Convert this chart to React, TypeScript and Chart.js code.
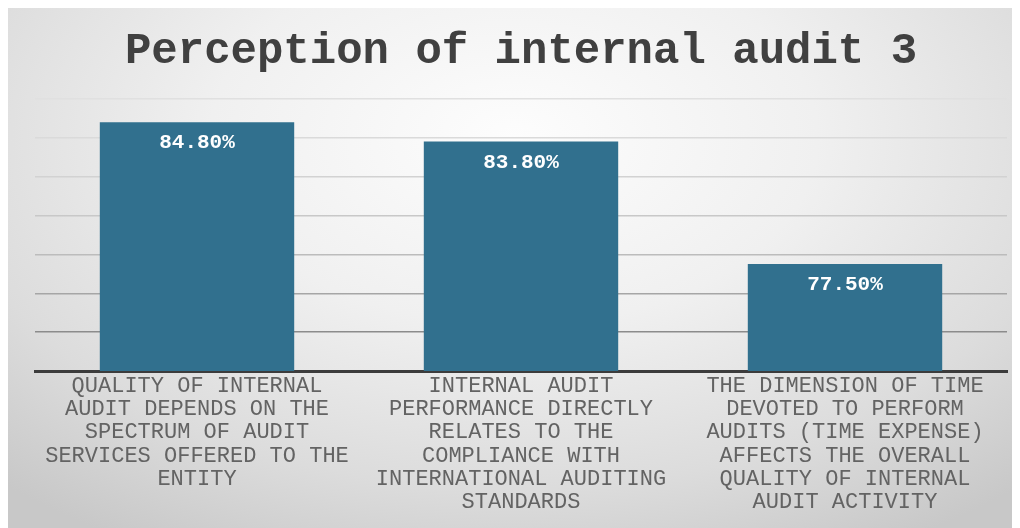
import React, { useEffect, useRef } from "react";
import { Chart, registerables } from "chart.js";

Chart.register(...registerables);

const TITLE = "Perception of internal audit 3";
const categories: string[][] = [
  ["QUALITY OF INTERNAL", "AUDIT DEPENDS ON THE", "SPECTRUM OF AUDIT", "SERVICES OFFERED TO THE", "ENTITY"],
  ["INTERNAL AUDIT", "PERFORMANCE DIRECTLY", "RELATES TO THE", "COMPLIANCE WITH", "INTERNATIONAL AUDITING", "STANDARDS"],
  ["THE DIMENSION OF TIME", "DEVOTED TO PERFORM", "AUDITS (TIME EXPENSE)", "AFFECTS THE OVERALL", "QUALITY OF INTERNAL", "AUDIT ACTIVITY"],
];
const values: number[] = [84.8, 83.8, 77.5];
const valueLabels: string[] = ["84.80%", "83.80%", "77.50%"];
const yMin = 72;
const yMax = 86;
const yStep = 2;

const MONO = "'Liberation Mono', 'Courier New', monospace";

const dataLabelPlugin = {
  id: "dataLabelPlugin",
  afterDatasetsDraw(chart: any) {
    const ctx = chart.ctx;
    const meta = chart.getDatasetMeta(0);
    ctx.save();
    ctx.fillStyle = "#ffffff";
    ctx.font = `bold 21px ${MONO}`;
    ctx.textAlign = "center";
    ctx.textBaseline = "middle";
    meta.data.forEach((bar: any, i: number) => {
      ctx.fillText(valueLabels[i], bar.x, bar.y + 21);
    });
    ctx.restore();
  },
};

export default function App() {
  const ref = useRef<HTMLCanvasElement | null>(null);

  useEffect(() => {
    if (!ref.current) return;
    const gridColors = ["#7a7a7a", "#8c8c8c", "#a6a6a6", "#bcbcbc", "#c8c8c8", "#d2d2d2", "#dadada", "#e0e0e0"];
    const chart = new Chart(ref.current, {
      type: "bar",
      data: {
        labels: categories,
        datasets: [
          {
            data: values,
            backgroundColor: "#31708e",
            borderWidth: 0,
            barPercentage: 0.6,
            categoryPercentage: 1,
          },
        ],
      },
      options: {
        responsive: false,
        animation: false,
        layout: { padding: { left: 27, right: 13, top: 0, bottom: 11 } },
        plugins: {
          legend: { display: false },
          tooltip: { enabled: false },
          title: {
            display: true,
            text: TITLE,
            color: "#404040",
            font: { family: MONO, size: 44, weight: "bold", lineHeight: 1.2 },
            padding: { top: 18, bottom: 20 },
          },
        },
        scales: {
          x: {
            grid: { display: false, drawTicks: false },
            border: { display: true, color: "#3c3c3c", width: 3 },
            ticks: {
              color: "#636363",
              font: { family: MONO, size: 22, lineHeight: 1.06 },
              padding: 3,
              maxRotation: 0,
              minRotation: 0,
              autoSkip: false,
            },
          },
          y: {
            min: yMin,
            max: yMax,
            ticks: { display: false, stepSize: yStep },
            grid: {
              drawTicks: false,
              lineWidth: 1.5,
              color: (c: any) => gridColors[c.index] || "#d0d0d0",
            },
            border: { display: false },
          },
        },
      },
      plugins: [dataLabelPlugin],
    });
    return () => chart.destroy();
  }, []);

  return (
    <div
      style={{
        width: 1012,
        height: 520,
        background:
          "radial-gradient(ellipse 75% 90% at 50% 25%, #fdfdfd 0%, #f0f0f0 40%, #dcdcdc 75%, #c8c8c8 100%)",
      }}
    >
      <canvas ref={ref} width={1012} height={520} style={{ display: "block" }} />
    </div>
  );
}
